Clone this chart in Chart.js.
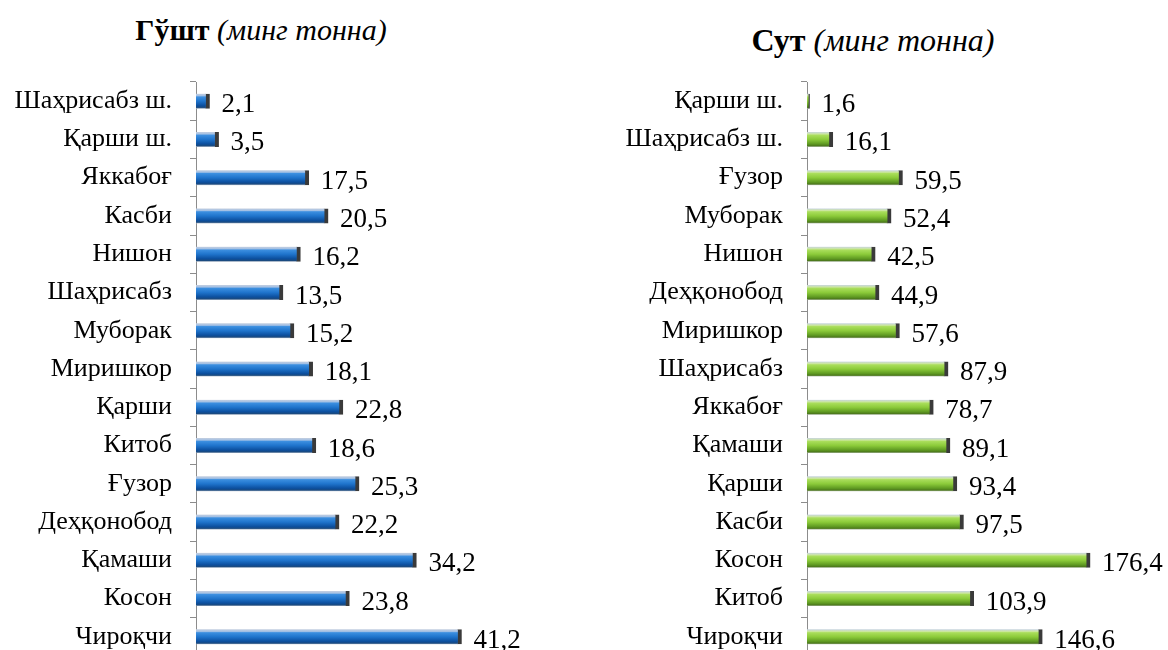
<!DOCTYPE html>
<html>
<head>
<meta charset="utf-8">
<script src="https://cdn.jsdelivr.net/npm/chart.js@4/dist/chart.umd.min.js"></script>
<style>
  html, body { margin: 0; padding: 0; background: #fff; overflow: hidden; }
  #wrap { position: relative; width: 1168px; height: 650px; }
  canvas { position: absolute; top: 0; }
  .title { position: absolute; font-family: "Liberation Serif", serif; font-size: 30px; line-height: 34px; color: #000; white-space: nowrap; transform: translateX(-50%); }
  .title b { font-weight: bold; }
  .title i { font-style: italic; }
</style>
</head>
<body>
<div id="wrap">
  <div class="title" style="left:261px; top:13px;"><b>Гўшт</b> <i>(минг тонна)</i></div>
  <div class="title" style="left:873px; top:23px; font-size:32px;"><b>Сут</b> <i>(минг тонна)</i></div>
  <canvas id="meatChart" width="584" height="660" style="left:0"></canvas>
  <canvas id="milkChart" width="584" height="660" style="left:584px"></canvas>
</div>
<script>
// Гўшт
const meatLabels = ['Шаҳрисабз ш.', 'Қарши ш.', 'Яккабоғ', 'Касби', 'Нишон', 'Шаҳрисабз', 'Муборак',
  'Миришкор', 'Қарши', 'Китоб', 'Ғузор', 'Деҳқонобод', 'Қамаши', 'Косон', 'Чироқчи'];
const meatValues = [2.1, 3.5, 17.5, 20.5, 16.2, 13.5, 15.2, 18.1, 22.8, 18.6, 25.3, 22.2, 34.2, 23.8, 41.2];

// Сут
const milkLabels = ['Қарши ш.', 'Шаҳрисабз ш.', 'Ғузор', 'Муборак', 'Нишон', 'Деҳқонобод', 'Миришкор',
  'Шаҳрисабз', 'Яккабоғ', 'Қамаши', 'Қарши', 'Касби', 'Косон', 'Китоб', 'Чироқчи'];
const milkValues = [1.6, 16.1, 59.5, 52.4, 42.5, 44.9, 57.6, 87.9, 78.7, 89.1, 93.4, 97.5, 176.4, 103.9, 146.6];

const blueStops = [[0, '#c4cfe0'], [0.14, '#a3c0e4'], [0.22, '#3c8fe0'], [0.5, '#1f74cc'], [0.8, '#0c4f9e'], [0.92, '#1a4a80'], [1, '#a8b4c4']];
const greenStops = [[0, '#c8d4e0'], [0.14, '#cbe6a0'], [0.22, '#aade5c'], [0.5, '#8ccb3a'], [0.8, '#5f9a22'], [0.92, '#4d7a1c'], [1, '#a8b4a0']];

const BAR_H = 15;
const SERIF = '"Liberation Serif", serif';

// подписи значений справа от столбцов
const valueLabels = {
  id: 'valueLabels',
  afterDatasetsDraw(chart) {
    const ctx = chart.ctx;
    const vals = chart.data.datasets[0].data;
    ctx.save();
    ctx.font = '27px ' + SERIF;
    ctx.fillStyle = '#000';
    ctx.textBaseline = 'middle';
    ctx.textAlign = 'left';
    chart.getDatasetMeta(0).data.forEach((bar, i) => {
      ctx.fillText(vals[i].toFixed(1).replace('.', ','), bar.x + 12, bar.y + 4);
    });
    ctx.restore();
  }
};

function makeChart(id, labels, values, max, axisX, padRight, stops, solid) {
  const ctx = document.getElementById(id).getContext('2d');
  return new Chart(ctx, {
    type: 'bar',
    data: {
      labels: labels,
      datasets: [{
        data: values,
        barThickness: BAR_H,
        backgroundColor: c => {
          const yScale = c.chart.scales.y;
          if (!yScale || c.dataIndex === undefined) return solid;
          const y = yScale.getPixelForValue(c.dataIndex);
          if (!Number.isFinite(y)) return solid;
          const g = c.chart.ctx.createLinearGradient(0, y - BAR_H / 2, 0, y + BAR_H / 2);
          stops.forEach(s => g.addColorStop(s[0], s[1]));
          return g;
        },
        borderColor: '#3a3a3a',
        borderWidth: { top: 0, right: 4, bottom: 0, left: 0 },
        borderSkipped: false
      }]
    },
    options: {
      indexAxis: 'y',
      responsive: false,
      animation: false,
      layout: { padding: { top: 82, bottom: 4, left: 0, right: padRight } },
      plugins: { legend: { display: false }, tooltip: { enabled: false } },
      scales: {
        x: { display: false, min: 0, max: max },
        y: {
          afterFit: scale => {
            scale.width = axisX;
            scale.paddingTop = 0;
            scale.paddingBottom = 0;
          },
          border: { color: '#8c8c8c', width: 1 },
          grid: { drawOnChartArea: false, drawTicks: true, tickLength: 6, color: '#8c8c8c', offset: true },
          ticks: { color: '#000', padding: 18, font: { family: SERIF, size: 26 } }
        }
      }
    },
    plugins: [valueLabels]
  });
}

makeChart('meatChart', meatLabels, meatValues, 45, 196, 98, blueStops, '#1f74cc');
makeChart('milkChart', milkLabels, milkValues, 200, 223, 40, greenStops, '#8ccb3a');
</script>
</body>
</html>
